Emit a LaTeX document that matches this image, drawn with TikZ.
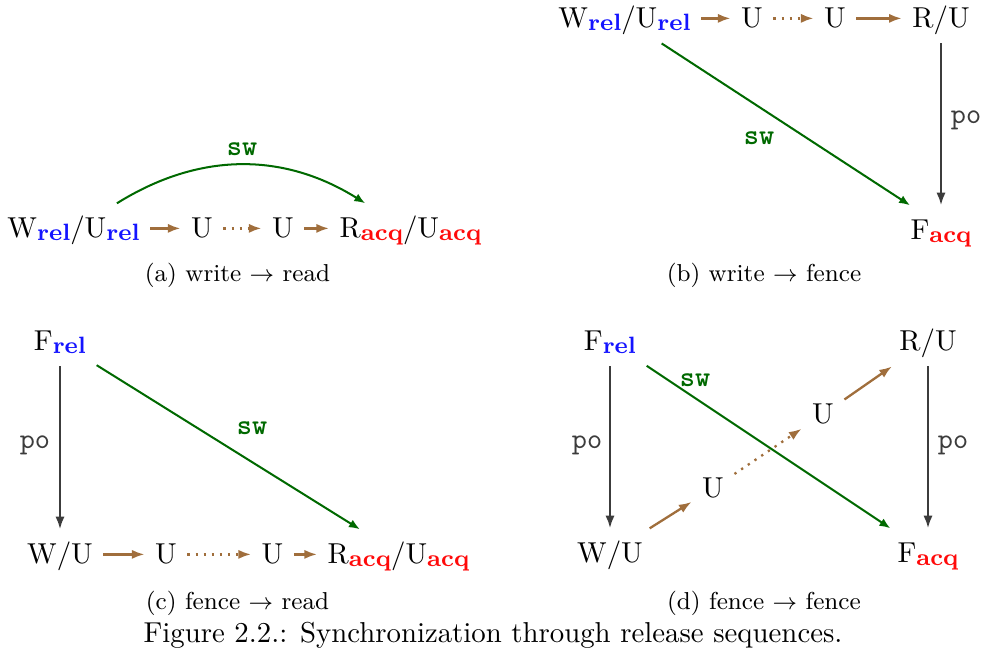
\documentclass[tikz,border=0pt]{standalone}
\usepackage{fontspec}
\usetikzlibrary{arrows.meta}
\definecolor{swgreen}{RGB}{0,105,0}
\definecolor{seqbrown}{RGB}{160,110,60}
\definecolor{pogray}{RGB}{60,60,60}
\definecolor{relblue}{RGB}{20,20,255}
\definecolor{acqred}{RGB}{255,10,10}
\newcommand\mysubtext[2]{\raisebox{-1.1pt}{\fontsize{8.2}{10}\selectfont\bfseries\textcolor{#1}{#2}}}
\newcommand\myrel{\mysubtext{relblue}{rel}}
\newcommand\myacq{\mysubtext{acqred}{acq}}
\tikzset{
  ev/.style={inner sep=3.5pt, text height=8pt, text depth=2pt, anchor=base,
    font=\fontsize{10}{12}\selectfont},
  seq/.style={-{Latex[length=4.4pt,width=3.2pt]}, seqbrown, line width=0.8pt},
  seqdot/.style={seq, dotted},
  swarrow/.style={-{Latex[length=3.8pt,width=3pt]}, swgreen, line width=0.7pt},
  poarrow/.style={-{Latex[length=4.4pt,width=3.2pt]}, pogray, line width=0.8pt},
  swlab/.style={font=\fontsize{10}{12}\selectfont\ttfamily\bfseries, text=swgreen, inner sep=0pt},
  polab/.style={font=\fontsize{10}{12}\selectfont\ttfamily, text=pogray, inner sep=0pt},
  subcap/.style={font=\fontsize{8.5}{10}\selectfont, anchor=base, inner sep=0pt},
  maincap/.style={font=\fontsize{10}{12}\selectfont, anchor=base, inner sep=0pt}
}
\begin{document}
\begin{tikzpicture}[x=0.3472pt,y=-0.3472pt]
\useasboundingbox (0,0) rectangle (986,655);
% (a)
\node[ev] (a1) at (73.5,237) {W\myrel/U\myrel};
\node[ev] (a2) at (202,237) {U};
\node[ev] (a3) at (283,237) {U};
\node[ev] (a4) at (410.5,237) {R\myacq/U\myacq};
\draw[seq] (a1) -- (a2);
\draw[seqdot] (a2) -- (a3);
\draw[seq] (a3) -- (a4);
\draw[swarrow] (a1.30) to[bend left=32] (a4.151);
\node[swlab] (swa) at (242,149) {sw};
\node[subcap] (capa) at (237.5,281) {(a) write $\rightarrow$ read};
% (b)
\node[ev] (b1) at (624.5,27) {W\myrel/U\myrel};
\node[ev] (b2) at (752,27) {U};
\node[ev] (b3) at (835,27) {U};
\node[ev] (b4) at (941,27) {R/U};
\node[ev] (b5) at (941,239) {F\myacq};
\draw[seq] (b1) -- (b2);
\draw[seqdot] (b2) -- (b3);
\draw[seq] (b3) -- (b4);
\draw[poarrow] (b4) -- (b5);
\draw[swarrow] (b1.-34) -- (b5.141);
\node[polab] (pob) at (966,120) {po};
\node[swlab] (swb) at (759,138) {sw};
\node[subcap] (capb) at (764,281) {(b) write $\rightarrow$ fence};
% (c)
\node[ev] (c1) at (60,350) {F\myrel};
\node[ev] (c2) at (60,563) {W/U};
\node[ev] (c3) at (166,563) {U};
\node[ev] (c4) at (272.5,563) {U};
\node[ev] (c5) at (398.5,563) {R\myacq/U\myacq};
\draw[poarrow] (c1) -- (c2);
\draw[seq] (c2) -- (c3);
\draw[seqdot] (c3) -- (c4);
\draw[seq] (c4) -- (c5);
\draw[swarrow] (c1.-33) -- (c5.147);
\node[polab] (poc) at (35,445) {po};
\node[swlab] (swc) at (252,428) {sw};
\node[subcap] (capc) at (237.5,609) {(c) fence $\rightarrow$ read};
% (d)
\node[ev] (d1) at (610,350) {F\myrel};
\node[ev] (d2) at (610,562) {W/U};
\node[ev] (d3) at (713,497) {U};
\node[ev] (d4) at (823,423) {U};
\node[ev] (d5) at (928,350) {R/U};
\node[ev] (d6) at (928,562) {F\myacq};
\draw[poarrow] (d1) -- (d2);
\draw[poarrow] (d5) -- (d6);
\draw[seq] (d2) -- (d3);
\draw[seqdot] (d3) -- (d4);
\draw[seq] (d4) -- (d5);
\draw[swarrow] (d1) -- (d6);
\node[polab] (pod1) at (587,445) {po};
\node[polab] (pod2) at (953,445) {po};
\node[swlab] (swd) at (695,380) {sw};
\node[subcap] (capd) at (764,609) {(d) fence $\rightarrow$ fence};
% caption
\node[maincap] (cap) at (493,642) {Figure 2.2.: Synchronization through release sequences.};
\end{tikzpicture}
\end{document}
